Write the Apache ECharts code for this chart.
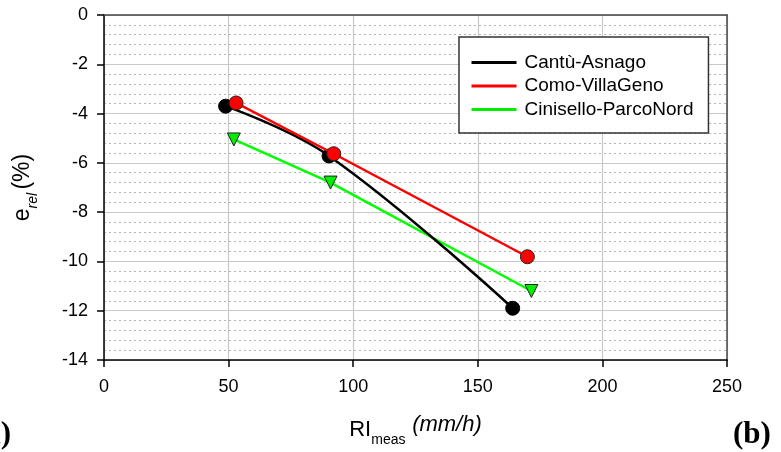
<!DOCTYPE html>
<html>
<head>
<meta charset="utf-8">
<script src="https://cdn.jsdelivr.net/npm/echarts@6/dist/echarts.min.js"></script>
<style>
  html, body { margin: 0; padding: 0; background: #fff; }
  #main { width: 781px; height: 452px; }
</style>
</head>
<body>
<div id="main"></div>
<script>
// series values: [RI_meas, e_rel]
const cantu = [[48.8, -3.7], [90.3, -5.72], [164.0, -11.9]];
const como = [[53.0, -3.57], [92.2, -5.63], [169.9, -9.81]];
const cinisello = [[52.1, -5.05], [90.9, -6.8], [171.5, -11.2]];
const names = ['Cantù-Asnago', 'Como-VillaGeno', 'Cinisello-ParcoNord'];

const font = 'Liberation Sans, Arial, sans-serif';
const chart = echarts.init(document.getElementById('main'));

chart.setOption({
  animation: false,
  grid: { left: 104, right: 54, top: 15, bottom: 92 },
  legend: {
    data: names,
    orient: 'vertical',
    left: 459, top: 37,
    padding: [16, 15, 14, 12.5],
    itemGap: 4.5,
    itemWidth: 45, itemHeight: 3,
    icon: 'rect',
    itemStyle: { borderWidth: 0 },
    borderColor: '#333', borderWidth: 1.5,
    backgroundColor: '#fff',
    textStyle: { fontFamily: font, fontSize: 19, color: '#000', lineHeight: 19, padding: [0, 0, 0, 3] }
  },
  xAxis: [{
    type: 'value', min: 0, max: 250, interval: 50, position: 'bottom',
    axisLine: { show: true, onZero: false, lineStyle: { color: '#000', width: 1.5 } },
    axisTick: { show: true, inside: true, length: -7, lineStyle: { color: '#000', width: 1.5 } },
    axisLabel: { fontFamily: font, fontSize: 18, color: '#000', margin: 18 },
    splitLine: { show: true, lineStyle: { color: '#c8c8c8', width: 1.2 } },
    name: '{a|RI}{b|meas}  {c|(mm/h)}',
    nameLocation: 'middle',
    nameGap: 57,
    nameTextStyle: {
      rich: {
        a: { fontFamily: font, fontSize: 22, color: '#000', verticalAlign: 'bottom', lineHeight: 24 },
        b: { fontFamily: font, fontSize: 14, color: '#000', verticalAlign: 'bottom', lineHeight: 12, padding: [0, 0, -6, 0] },
        c: { fontFamily: font, fontSize: 22, fontStyle: 'italic', color: '#000', verticalAlign: 'bottom', lineHeight: 24, padding: [0, 0, 5, 0] }
      }
    }
  }, {
    type: 'value', min: 0, max: 250, interval: 50, position: 'top',
    axisLine: { show: true, onZero: false, lineStyle: { color: '#444', width: 1.5 } },
    axisTick: { show: false }, axisLabel: { show: false }, splitLine: { show: false }
  }],
  yAxis: [{
    type: 'value', min: -14, max: 0, interval: 2, position: 'left',
    axisLine: { show: true, onZero: false, lineStyle: { color: '#000', width: 1.5 } },
    axisTick: { show: true, length: 7, lineStyle: { color: '#000', width: 1.5 } },
    axisLabel: { fontFamily: font, fontSize: 18, color: '#000', margin: 16 },
    splitLine: { show: true, lineStyle: { color: '#c8c8c8', width: 1.2 } },
    minorTick: { show: false, splitNumber: 5 },
    minorSplitLine: { show: true, lineStyle: { color: '#b4b4b4', type: [2, 3], width: 1 } },
    name: '{a|e}{b|rel} {a|(%)}',
    nameLocation: 'middle',
    nameRotate: 90,
    nameGap: 70,
    nameTextStyle: {
      rich: {
        a: { fontFamily: font, fontSize: 23, color: '#000', verticalAlign: 'bottom', lineHeight: 24 },
        b: { fontFamily: font, fontSize: 14, fontStyle: 'italic', color: '#000', verticalAlign: 'bottom', lineHeight: 12, padding: [0, 0, -6, 0] }
      }
    }
  }, {
    type: 'value', min: -14, max: 0, interval: 2, position: 'right',
    axisLine: { show: true, onZero: false, lineStyle: { color: '#444', width: 1.5 } },
    axisTick: { show: false }, axisLabel: { show: false }, splitLine: { show: false }
  }],
  graphic: [
    { type: 'text', left: 733, top: 419, style: { text: '(b)', fontFamily: 'Liberation Serif, Times New Roman, serif', fontWeight: 'bold', fontSize: 31, fill: '#000' } },
    { type: 'text', right: 770, top: 419, style: { text: '(a)', fontFamily: 'Liberation Serif, Times New Roman, serif', fontWeight: 'bold', fontSize: 31, fill: '#000' } }
  ],
  series: [
    {
      name: names[0], type: 'line', data: cantu, smooth: 0.4,
      symbol: 'circle', symbolSize: 14,
      lineStyle: { color: '#000', width: 2.5 },
      itemStyle: { color: '#000', borderColor: '#000', borderWidth: 1 },
      z: 3
    },
    {
      name: names[1], type: 'line', data: como,
      symbol: 'circle', symbolSize: 14,
      lineStyle: { color: '#ff0000', width: 2.5 },
      itemStyle: { color: '#ff0000', borderColor: '#222', borderWidth: 1 },
      z: 4
    },
    {
      name: names[2], type: 'line', data: cinisello,
      symbol: 'triangle', symbolRotate: 180, symbolSize: 13,
      lineStyle: { color: '#00ff00', width: 2.5 },
      itemStyle: { color: '#00ee00', borderColor: '#222', borderWidth: 1 },
      z: 2
    }
  ]
});
</script>
</body>
</html>
